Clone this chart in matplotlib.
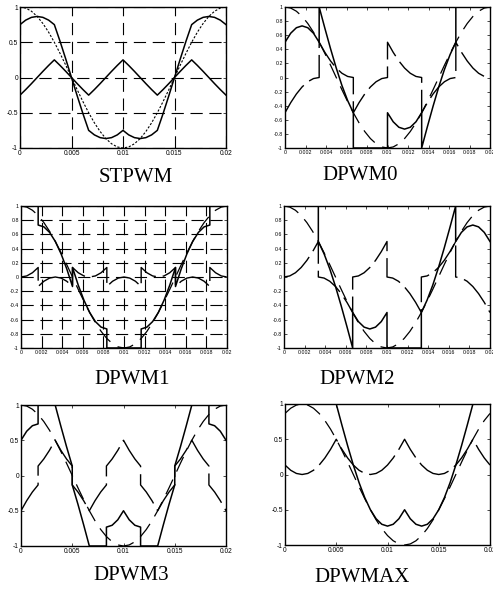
import matplotlib
matplotlib.use("Agg")
import matplotlib.pyplot as plt

plt.rcParams["font.family"] = ["Liberation Sans", "DejaVu Sans"]
plt.rcParams["axes.unicode_minus"] = False

PERIOD = 0.02  # one 50 Hz cycle

# reference phase-a voltage on a 10 deg grid (0..360 deg)
REF = [1, .985, .94, .866, .766, .643, .5, .342, .174, 0, -.174, -.342, -.5,
       -.643, -.766, -.866, -.94, -.985, -1, -.985, -.94, -.866, -.766, -.643, -.5,
       -.342, -.174, 0, .174, .342, .5, .643, .766, .866, .94, .985, 1]

# STPWM (continuous, grid 10 deg)
st_z = [-.25, -.171, -.087, 0, .087, .171, .25, .171, .087, 0, -.087, -.171, -.25,
        -.171, -.087, 0, .087, .171, .25, .171, .087, 0, -.087, -.171, -.25,
        -.171, -.087, 0, .087, .171, .25, .171, .087, 0, -.087, -.171, -.25]
st_va = [.75, .814, .853, .866, .853, .814, .75, .513, .261, 0, -.261, -.513, -.75,
         -.814, -.853, -.866, -.853, -.814, -.75, -.814, -.853, -.866, -.853, -.814, -.75,
         -.513, -.261, 0, .261, .513, .75, .814, .853, .866, .853, .814, .75]

# DPWM0 (sectors break every 60 deg)
dp0_z = [-.5, -.357, -.234, -.134, -.06, -.015, 0,
         .5, .357, .234, .134, .06, .015, 0,
         -.5, -.357, -.234, -.134, -.06, -.015, 0,
         .5, .357, .234, .134, .06, .015, 0,
         -.5, -.357, -.234, -.134, -.06, -.015, 0,
         .5, .357, .234, .134, .06, .015, 0]
dp0_va = [.5, .628, .706, .732, .706, .628, .5,
          1, .699, .408, .134, -.114, -.327, -.5,
          -1, -1, -1, -1, -1, -1, -1,
          -.5, -.628, -.706, -.732, -.706, -.628, -.5,
          -1, -.699, -.408, -.134, .114, .327, .5,
          1, 1, 1, 1, 1, 1, 1]

# DPWM1 (breaks at 30, 90, 150, 210, 270, 330 deg)
dp1_z = [0, .015, .06, .134,
         -.134, -.06, -.015, 0, -.015, -.06, -.134,
         .134, .06, .015, 0, .015, .06, .134,
         -.134, -.06, -.015, 0, -.015, -.06, -.134,
         .134, .06, .015, 0, .015, .06, .134,
         -.134, -.06, -.015, 0, -.015, -.06, -.134,
         .134, .06, .015, 0]
dp1_va = [1, 1, 1, 1,
          .732, .706, .628, .5, .327, .114, -.134,
          .134, -.114, -.327, -.5, -.628, -.706, -.732,
          -1, -1, -1, -1, -1, -1, -1,
          -.732, -.706, -.628, -.5, -.327, -.114, .134,
          -.134, .114, .327, .5, .628, .706, .732,
          1, 1, 1, 1]

# DPWM2 (sectors break every 60 deg)
dp2_z = [0, .015, .06, .134, .234, .357, .5,
         0, -.015, -.06, -.134, -.234, -.357, -.5,
         0, .015, .06, .134, .234, .357, .5,
         0, -.015, -.06, -.134, -.234, -.357, -.5,
         0, .015, .06, .134, .234, .357, .5,
         0, -.015, -.06, -.134, -.234, -.357, -.5]
dp2_va = [1, 1, 1, 1, 1, 1, 1,
          .5, .327, .114, -.134, -.408, -.699, -1,
          -.5, -.628, -.706, -.732, -.706, -.628, -.5,
          -1, -1, -1, -1, -1, -1, -1,
          -.5, -.327, -.114, .134, .408, .699, 1,
          .5, .628, .706, .732, .706, .628, .5]

# DPWM3 (sectors break every 30 deg)
dp3_z = [-.5, -.357, -.234, -.134, .134, .234, .357, .5,
         .5, .357, .234, .134, -.134, -.234, -.357, -.5,
         -.5, -.357, -.234, -.134, .134, .234, .357, .5,
         .5, .357, .234, .134, -.134, -.234, -.357, -.5,
         -.5, -.357, -.234, -.134, .134, .234, .357, .5,
         .5, .357, .234, .134, -.134, -.234, -.357, -.5]
dp3_va = [.5, .628, .706, .732, 1, 1, 1, 1,
          1, .699, .408, .134, -.134, -.408, -.699, -1,
          -1, -1, -1, -1, -.732, -.706, -.628, -.5,
          -.5, -.628, -.706, -.732, -1, -1, -1, -1,
          -1, -.699, -.408, -.134, .134, .408, .699, 1,
          1, 1, 1, 1, .732, .706, .628, .5]

# DPWMMAX (reference lags 30 deg, continuous, grid 10 deg)
max_ref = [.866, .94, .985, 1, .985, .94, .866, .766, .643, .5, .342, .174, 0,
           -.174, -.342, -.5, -.643, -.766, -.866, -.94, -.985, -1, -.985, -.94, -.866,
           -.766, -.643, -.5, -.342, -.174, 0, .174, .342, .5, .643, .766, .866]
max_z = [.134, .06, .015, 0, .015, .06, .134, .234, .357, .5,
         .357, .234, .134, .06, .015, 0, .015, .06, .134, .234, .357, .5,
         .357, .234, .134, .06, .015, 0, .015, .06, .134, .234, .357, .5,
         .357, .234, .134]
max_va = [1, 1, 1, 1, 1, 1, 1, 1, 1, 1,
          .699, .408, .134, -.114, -.327, -.5, -.628, -.706, -.732, -.706, -.628, -.5,
          -.628, -.706, -.732, -.706, -.628, -.5, -.327, -.114, .134, .408, .699, 1,
          1, 1, 1]

BREAKS_60 = [0, 60, 120, 180, 240, 300, 360]
BREAKS_DP1 = [0, 30, 90, 150, 210, 270, 330, 360]
BREAKS_30 = list(range(0, 361, 30))

TICKS_COARSE = [0, 0.005, 0.01, 0.015, 0.02]
TICKLBL_COARSE = ["0", "0.005", "0.01", "0.015", "0.02"]
YT_COARSE = [-1, -0.5, 0, 0.5, 1]
YLBL_COARSE = ["-1", "-0.5", "0", "0.5", "1"]
TICKS_FINE = [i * 0.002 for i in range(11)]
TICKLBL_FINE = ["0", "0.002", "0.004", "0.006", "0.008", "0.01",
                "0.012", "0.014", "0.016", "0.018", "0.02"]
YT_FINE = [-1, -0.8, -0.6, -0.4, -0.2, 0, 0.2, 0.4, 0.6, 0.8, 1]
YLBL_FINE = ["-1", "-0.8", "-0.6", "-0.4", "-0.2", "0",
             "0.2", "0.4", "0.6", "0.8", "1"]


def sector_grid(breaks, step=10):
    """Angles (deg) for piecewise sectors; shared ends repeat so jumps draw vertical."""
    out = []
    for a, b in zip(breaks[:-1], breaks[1:]):
        out += list(range(a, b + 1, step))
    return out


def to_t(angles):
    return [a / 360 * PERIOD for a in angles]


GRID10 = to_t(range(0, 361, 10))

W, H = 493, 593
fig = plt.figure(figsize=(W / 100, H / 100), dpi=100)


def make_ax(l, r, t, b):
    return fig.add_axes([l / W, 1 - b / H, (r - l) / W, (b - t) / H])


def style(ax, fine, grid=False):
    ax.set_xlim(0, PERIOD)
    ax.set_ylim(-1, 1)
    if fine:
        ax.set_xticks(TICKS_FINE, TICKLBL_FINE)
        ax.set_yticks(YT_FINE, YLBL_FINE)
        fs = 3.8
    else:
        ax.set_xticks(TICKS_COARSE, TICKLBL_COARSE)
        ax.set_yticks(YT_COARSE, YLBL_COARSE)
        fs = 4.8
    ax.tick_params(direction="in", length=2, width=0.5, labelsize=fs, pad=1.5,
                   top=True, right=True, colors="black")
    for sp in ax.spines.values():
        sp.set_linewidth(1.0)
    if grid:
        ax.grid(True, color="black", linewidth=0.8, linestyle=(0, (11, 6)))
        ax.set_axisbelow(True)


SOLID = dict(color="black", linewidth=1.1)
ZSTY = dict(color="black", linewidth=1.0, linestyle=(0, (24, 5)))
REFSTY = dict(color="black", linewidth=0.9, linestyle=(0, (13, 7)))

# STPWM
ax = make_ax(20, 226, 7, 148)
ax.plot(GRID10, REF, color="black", linewidth=0.8, linestyle=(0, (2, 1.5)))
ax.plot(GRID10, st_z, **SOLID)
ax.plot(GRID10, st_va, **SOLID)
style(ax, fine=False, grid=True)

# DPWM0
ax = make_ax(285, 490, 7, 148)
t60 = to_t(sector_grid(BREAKS_60))
ax.plot(GRID10, REF, **REFSTY)
ax.plot(t60, dp0_z, **ZSTY)
ax.plot(t60, dp0_va, **SOLID)
style(ax, fine=True)

# DPWM1
ax = make_ax(21, 227, 206, 348)
tdp1 = to_t(sector_grid(BREAKS_DP1))
ax.plot(GRID10, REF, **REFSTY)
ax.plot(tdp1, dp1_z, **ZSTY)
ax.plot(tdp1, dp1_va, **SOLID)
style(ax, fine=True, grid=True)

# DPWM2
ax = make_ax(284, 490, 206, 348)
ax.plot(GRID10, REF, **REFSTY)
ax.plot(t60, dp2_z, **ZSTY)
ax.plot(t60, dp2_va, **SOLID)
style(ax, fine=True)

# DPWM3
ax = make_ax(21, 226, 405, 546)
t30 = to_t(sector_grid(BREAKS_30))
ax.plot(GRID10, REF, **REFSTY)
ax.plot(t30, dp3_z, **ZSTY)
ax.plot(t30, dp3_va, **SOLID)
style(ax, fine=False)

# DPWMMAX
ax = make_ax(285, 490, 404, 545)
ax.plot(GRID10, max_ref, **REFSTY)
ax.plot(GRID10, max_z, **ZSTY)
ax.plot(GRID10, max_va, **SOLID)
style(ax, fine=False)

captions = [("STPWM", 136, 177), ("DPWM0", 360, 176),
            ("DPWM1", 132, 379), ("DPWM2", 357, 379),
            ("DPWM3", 131, 575), ("DPWMAX", 362, 578)]
for txt, x, y in captions:
    fig.text(x / W, 1 - y / H, txt, ha="center", va="center",
             family=["Liberation Serif", "DejaVu Serif"], fontsize=15)

fig.savefig("out.png", dpi=100)
